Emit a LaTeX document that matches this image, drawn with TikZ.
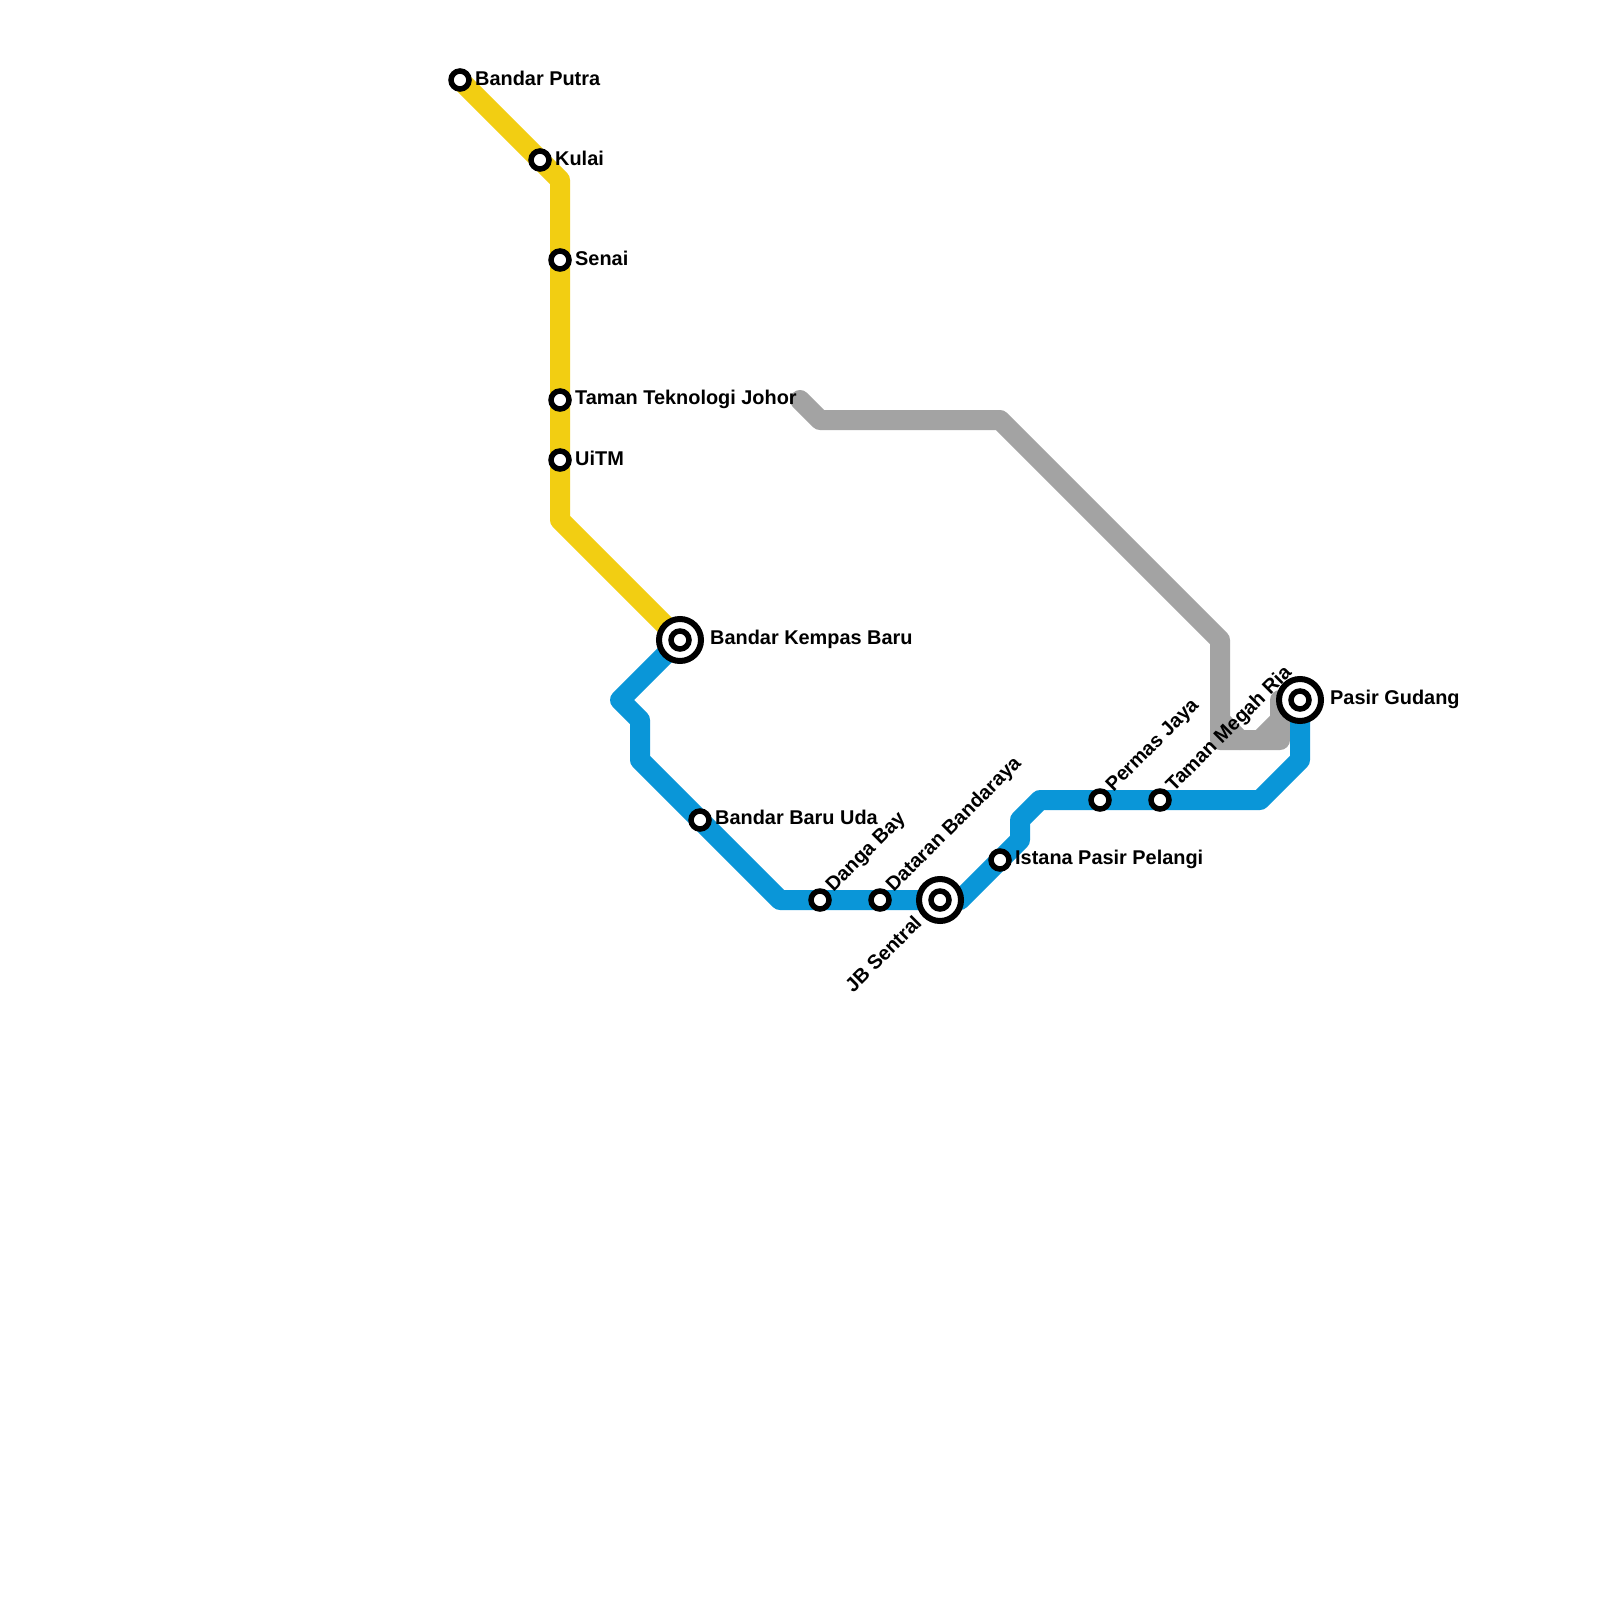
\documentclass[tikz,border=0pt]{standalone}
\usepackage{fontspec}
\setmainfont{Liberation Sans}
\definecolor{lineyellow}{HTML}{F2CE12}
\definecolor{lineblue}{HTML}{0A96D8}
\definecolor{linegrey}{HTML}{A3A3A3}
\tikzset{
  metro/.style={line width=20pt,line join=round,line cap=round},
  stn/.style={circle,draw=black,fill=white,line width=5.5pt,minimum size=18pt,inner sep=0pt},
  bigring/.style={circle,draw=black,fill=white,line width=6pt,minimum size=42pt,inner sep=0pt},
  lbl/.style={font=\fontsize{19.9}{22}\selectfont\bfseries,text=black,inner sep=0pt,anchor=west},
  lble/.style={font=\fontsize{19.9}{22}\selectfont\bfseries,text=black,inner sep=0pt,anchor=east},
}
\begin{document}
\begin{tikzpicture}[x=1pt,y=-1pt]
\useasboundingbox[fill=white] (0,0) rectangle (1600,1600);
% waypoints
\coordinate (bp) at (460,80);
\coordinate (y1) at (560,180);
\coordinate (y2) at (560,520);
\coordinate (bk) at (680,640);
\coordinate (b1) at (620,700);
\coordinate (b2) at (640,720);
\coordinate (b3) at (640,760);
\coordinate (b4) at (780,900);
\coordinate (b5) at (960,900);
\coordinate (b6) at (1020,840);
\coordinate (b7) at (1020,820);
\coordinate (b8) at (1040,800);
\coordinate (b9) at (1260,800);
\coordinate (b10) at (1300,760);
\coordinate (pg) at (1300,700);
\coordinate (g0) at (800,400);
\coordinate (g1) at (820,420);
\coordinate (g2) at (1000,420);
\coordinate (g3) at (1220,640);
\coordinate (g4) at (1220,740);
\coordinate (g5) at (1280,740);
\coordinate (g6) at (1280,700);
\coordinate (g7) at (1220,720);
\coordinate (g8) at (1240,740);
\coordinate (g9) at (1260,740);
\coordinate (g10) at (1280,720);
% lines
\draw[metro,linegrey] (g0)--(g1)--(g2)--(g3)--(g4)--(g5)--(g6);
\draw[metro,linegrey] (g7)--(g8) (g9)--(g10);
\draw[metro,lineblue] (bk)--(b1)--(b2)--(b3)--(b4)--(b5)--(b6)--(b7)--(b8)--(b9)--(b10)--(pg);
\draw[metro,lineyellow] (bp)--(y1)--(y2)--(bk);
% interchange rings
\node[bigring] (rbk) at (680,640) {};
\node[bigring] (rjb) at (940,900) {};
\node[bigring] (rpg) at (1300,700) {};
% stations
\node[stn] (s1) at (460,80) {};
\node[stn] (s2) at (540,160) {};
\node[stn] (s3) at (560,260) {};
\node[stn] (s4) at (560,400) {};
\node[stn] (s5) at (560,460) {};
\node[stn] (s6) at (680,640) {};
\node[stn] (s7) at (700,820) {};
\node[stn] (s8) at (820,900) {};
\node[stn] (s9) at (880,900) {};
\node[stn] (s10) at (940,900) {};
\node[stn] (s11) at (1000,860) {};
\node[stn] (s12) at (1100,800) {};
\node[stn] (s13) at (1160,800) {};
\node[stn] (s14) at (1300,700) {};
% labels
\node[lbl] (t1) at (475,78) {Bandar Putra};
\node[lbl] (t2) at (555,158) {Kulai};
\node[lbl] (t3) at (575,258) {Senai};
\node[lbl] (t4) at (575,399) {Taman Teknologi Johor};
\node[lbl] (t5) at (575,458) {UiTM};
\node[lbl] (t6) at (710,639) {Bandar Kempas Baru};
\node[lbl] (t7) at (715,817) {Bandar Baru Uda};
\node[lbl,rotate=45,anchor=west] (t8) at (830,889) {Danga Bay};
\node[lbl,rotate=45,anchor=west] (t9) at (890,889) {Dataran Bandaraya};
\node[lble,rotate=45] (t10) at (918,919) {JB Sentral};
\node[lbl] (t11) at (1015,859) {Istana Pasir Pelangi};
\node[lbl,rotate=45,anchor=west] (t12) at (1110,789) {Permas Jaya};
\node[lbl,rotate=45,anchor=west] (t13) at (1170,789) {Taman Megah Ria};
\node[lbl] (t14) at (1330,699) {Pasir Gudang};
\end{tikzpicture}
\end{document}
